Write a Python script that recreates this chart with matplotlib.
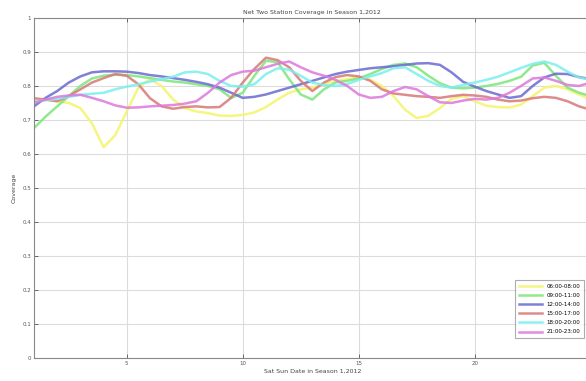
import matplotlib
matplotlib.use('Agg')
import matplotlib.pyplot as plt
import numpy as np

# dzien (co pol dnia)
days = np.arange(1, 25.01, 0.5)

cov_0608 = [0.760, 0.760, 0.755, 0.750, 0.735, 0.690, 0.620, 0.655, 0.725, 0.795,
            0.820, 0.800, 0.760, 0.735, 0.725, 0.720, 0.713, 0.712, 0.715, 0.722,
            0.738, 0.760, 0.780, 0.790, 0.795, 0.805, 0.815, 0.820, 0.825, 0.818,
            0.800, 0.770, 0.730, 0.706, 0.712, 0.735, 0.762, 0.770, 0.755, 0.742,
            0.738, 0.737, 0.745, 0.770, 0.795, 0.800, 0.790, 0.775, 0.760]
cov_0911 = [0.676, 0.710, 0.740, 0.770, 0.800, 0.822, 0.830, 0.833, 0.832, 0.828,
            0.823, 0.818, 0.813, 0.810, 0.805, 0.800, 0.790, 0.765, 0.780, 0.830,
            0.874, 0.870, 0.820, 0.775, 0.760, 0.790, 0.810, 0.815, 0.822, 0.835,
            0.850, 0.862, 0.866, 0.855, 0.830, 0.808, 0.795, 0.793, 0.795, 0.800,
            0.806, 0.815, 0.827, 0.860, 0.868, 0.830, 0.795, 0.780, 0.770]
cov_1214 = [0.740, 0.765, 0.785, 0.810, 0.828, 0.840, 0.843, 0.843, 0.842, 0.838,
            0.832, 0.828, 0.823, 0.818, 0.812, 0.805, 0.795, 0.780, 0.765, 0.768,
            0.775, 0.785, 0.795, 0.805, 0.815, 0.825, 0.835, 0.842, 0.847, 0.852,
            0.855, 0.858, 0.862, 0.866, 0.867, 0.862, 0.840, 0.812, 0.798, 0.785,
            0.775, 0.765, 0.770, 0.800, 0.825, 0.836, 0.835, 0.826, 0.820]
cov_1517 = [0.764, 0.760, 0.755, 0.770, 0.790, 0.810, 0.823, 0.835, 0.830, 0.805,
            0.764, 0.740, 0.733, 0.738, 0.740, 0.737, 0.738, 0.765, 0.810, 0.850,
            0.883, 0.876, 0.855, 0.815, 0.785, 0.810, 0.826, 0.832, 0.828, 0.815,
            0.790, 0.778, 0.774, 0.770, 0.768, 0.765, 0.770, 0.774, 0.772, 0.768,
            0.760, 0.755, 0.757, 0.764, 0.768, 0.765, 0.755, 0.740, 0.730]
cov_1820 = [0.755, 0.758, 0.762, 0.768, 0.774, 0.777, 0.780, 0.790, 0.798, 0.805,
            0.813, 0.820, 0.827, 0.840, 0.842, 0.835, 0.815, 0.800, 0.798, 0.805,
            0.835, 0.852, 0.848, 0.830, 0.810, 0.803, 0.800, 0.805, 0.818, 0.828,
            0.838, 0.852, 0.855, 0.835, 0.815, 0.800, 0.795, 0.803, 0.810, 0.818,
            0.827, 0.840, 0.853, 0.865, 0.872, 0.862, 0.842, 0.825, 0.818]
cov_2123 = [0.750, 0.760, 0.768, 0.772, 0.774, 0.765, 0.755, 0.743, 0.736, 0.737,
            0.740, 0.742, 0.744, 0.748, 0.755, 0.780, 0.810, 0.832, 0.842, 0.845,
            0.855, 0.865, 0.872, 0.855, 0.840, 0.830, 0.818, 0.800, 0.775, 0.765,
            0.768, 0.785, 0.797, 0.790, 0.770, 0.752, 0.750, 0.757, 0.762, 0.760,
            0.765, 0.780, 0.800, 0.822, 0.825, 0.815, 0.803, 0.800, 0.810]

labels = ['06:00-08:00', '09:00-11:00', '12:00-14:00',
          '15:00-17:00', '18:00-20:00', '21:00-23:00']
series = [cov_0608, cov_0911, cov_1214, cov_1517, cov_1820, cov_2123]
colors = ['#f4f46c', '#7ce67c', '#6a6ad0', '#d87878', '#7ceeee', '#dc78dc']

fig = plt.figure(figsize=(5.86, 3.81), dpi=100)
ax = fig.add_axes([0.058, 0.060, 0.950, 0.893])

for y, c, lab in zip(series, colors, labels):
    ax.plot(days, y, color=c, lw=1.8, alpha=0.85, label=lab)

ax.set_xlim(1, 25)
ax.set_ylim(0, 1)
ax.set_xticks([5, 10, 15, 20])
ax.set_yticks(np.arange(0, 1.01, 0.1))
ax.set_yticklabels(['0', '0.1', '0.2', '0.3', '0.4', '0.5', '0.6', '0.7', '0.8', '0.9', '1'])
ax.grid(True, color='#dcdcdc', lw=0.8)
ax.tick_params(direction='in', length=3, width=0.6, labelsize=4, colors='#555555',
               top=True, right=True, pad=2)
for s in ax.spines.values():
    s.set_color('#888888')
    s.set_linewidth(0.8)

ax.set_title('Net Two Station Coverage in Season 1,2012', fontsize=4.5, color='#444444', pad=3)
ax.set_xlabel('Sat Sun Date in Season 1,2012', fontsize=4.5, color='#444444', labelpad=2)
ax.set_ylabel('Coverage', fontsize=4.5, color='#444444', labelpad=4)

leg = ax.legend(loc='lower right', bbox_to_anchor=(0.993, 0.05), fontsize=4,
                frameon=True, fancybox=False, handlelength=4.2, borderpad=0.7,
                labelspacing=0.75, handletextpad=0.7)
leg.get_frame().set_edgecolor('#999999')
leg.get_frame().set_linewidth(0.8)

plt.savefig('out.png', dpi=100)
